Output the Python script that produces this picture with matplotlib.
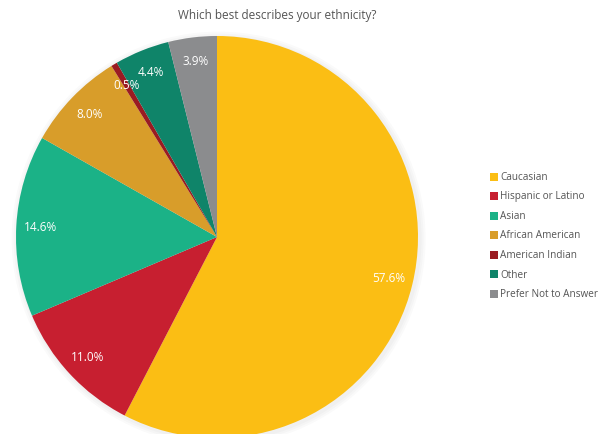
import matplotlib
matplotlib.use("Agg")
import matplotlib.pyplot as plt
from matplotlib.lines import Line2D
from matplotlib.patches import Circle

categories = ["Caucasian", "Hispanic or Latino", "Asian", "African American",
              "American Indian", "Other", "Prefer Not to Answer"]
values = [57.6, 11.0, 14.6, 8.0, 0.5, 4.4, 3.9]
colors = ["#FBBE14", "#C71F30", "#1BB287", "#D89D2A", "#9A1B22", "#0F8469", "#8B8C8E"]
title = "Which best describes your ethnicity?"

plt.rcParams['font.family'] = ['Open Sans', 'DejaVu Sans']

W, H = 608, 434
cx, cy, R = 217, 237, 201
fig = plt.figure(figsize=(W / 100, H / 100), dpi=100)
ax = fig.add_axes([0, 0, 1, 1])
ax.set_aspect('equal')
ax.axis('off')

# soft shadow
for i in range(3):
    ax.add_patch(Circle((0.008, -0.008), 1 + 0.01 * (i + 1), color='black', alpha=0.02, lw=0, zorder=0))

wedges, texts, autotexts = ax.pie(values, colors=colors, startangle=90, counterclock=False,
                                  radius=1, autopct='%.1f%%', pctdistance=0.88,
                                  wedgeprops=dict(linewidth=0),
                                  textprops=dict(color='white', fontsize=8.5))
for w in wedges:
    w.set_zorder(2)
for t in autotexts:
    t.set_zorder(3)
ax.set_xlim(-cx / R, (W - cx) / R)
ax.set_ylim(-(H - cy) / R, cy / R)

fig.text(277 / W, 1 - 16 / H, title, ha='center', va='center', fontsize=8.5, color='#555555')

handles = [Line2D([0], [0], marker='s', linestyle='', markersize=6, markerfacecolor=c,
                  markeredgewidth=0) for c in colors]
leg = fig.legend(handles, categories, loc='center left', bbox_to_anchor=(486 / W, 1 - 236 / H),
                 frameon=False, fontsize=7.2, handlelength=0.6, handletextpad=0.3,
                 labelspacing=0.85, borderpad=0)
for t in leg.get_texts():
    t.set_color('#555555')

fig.savefig("out.png", dpi=100)
